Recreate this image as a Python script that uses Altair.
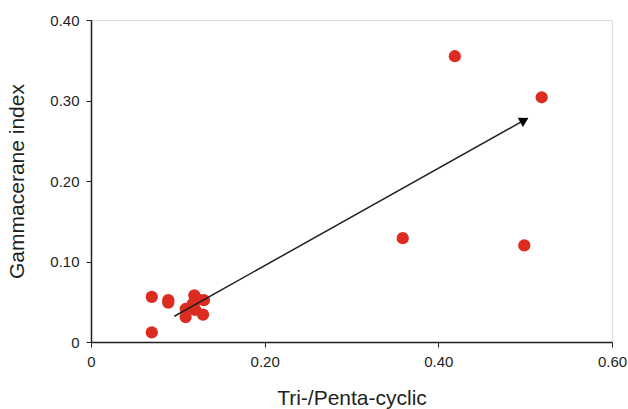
import altair as alt
import pandas as pd

x_vals = [0.419, 0.519, 0.359, 0.499, 0.070, 0.089, 0.089, 0.070,
          0.119, 0.123, 0.130, 0.109, 0.109, 0.120, 0.129, 0.117]
y_vals = [0.355, 0.304, 0.129, 0.120, 0.056, 0.052, 0.049, 0.012,
          0.058, 0.053, 0.052, 0.041, 0.031, 0.040, 0.034, 0.047]

arrow_x = [0.096, 0.503]
arrow_y = [0.032, 0.278]
head_x = [0.499]
head_y = [0.2755]

pts = pd.DataFrame({"x": x_vals, "y": y_vals})
arr = pd.DataFrame({"x": [arrow_x[0]], "y": [arrow_y[0]], "x2": [arrow_x[1]], "y2": [arrow_y[1]]})
head = pd.DataFrame({"x": head_x, "y": head_y})

xscale = alt.Scale(domain=[0, 0.6], nice=False, zero=True)
yscale = alt.Scale(domain=[0, 0.4], nice=False, zero=True)

xaxis = alt.Axis(title="Tri-/Penta-cyclic", values=[0, 0.2, 0.4, 0.6],
                 labelExpr="datum.value == 0 ? '0' : format(datum.value, '.2f')",
                 grid=False, domainColor="#231f20", tickColor="#231f20", tickSize=5,
                 labelFont="Liberation Sans", labelFontSize=15, labelColor="#231f20",
                 labelPadding=7, titleFont="Liberation Sans", titleFontSize=21,
                 titleFontWeight="normal", titleColor="#231f20", titlePadding=18,
                 labelFlush=False, domainWidth=1.5)
yaxis = alt.Axis(title="Gammacerane index", values=[0, 0.1, 0.2, 0.3, 0.4],
                 labelExpr="datum.value == 0 ? '0' : format(datum.value, '.2f')",
                 grid=False, domainColor="#231f20", tickColor="#231f20", tickSize=5,
                 labelFont="Liberation Sans", labelFontSize=15, labelColor="#231f20",
                 labelPadding=7, titleFont="Liberation Sans", titleFontSize=21,
                 titleFontWeight="normal", titleColor="#231f20", titlePadding=22,
                 labelFlush=False, domainWidth=1.5)

points = alt.Chart(pts).mark_circle(size=150, color="#dc2b20", opacity=1).encode(
    x=alt.X("x:Q", scale=xscale, axis=xaxis),
    y=alt.Y("y:Q", scale=yscale, axis=yaxis),
)

line = alt.Chart(arr).mark_rule(color="#231f20", strokeWidth=1.5).encode(
    x=alt.X("x:Q", scale=xscale), y=alt.Y("y:Q", scale=yscale),
    x2="x2:Q", y2="y2:Q",
)

arrowhead = alt.Chart(head).mark_point(shape="triangle-right", filled=True, color="#000000",
                                        size=110, angle=330.8, opacity=1).encode(
    x=alt.X("x:Q", scale=xscale), y=alt.Y("y:Q", scale=yscale),
)

chart = alt.layer(points, line, arrowhead).properties(
    width=521, height=322,
    autosize=alt.AutoSizeParams(type="none"),
    padding={"left": 91, "top": 20, "right": 16, "bottom": 67},
).configure_view(stroke="#777777", strokeWidth=1.5).configure(background="white")

chart.save("out.html", embed_options={"renderer": "svg", "actions": False})
